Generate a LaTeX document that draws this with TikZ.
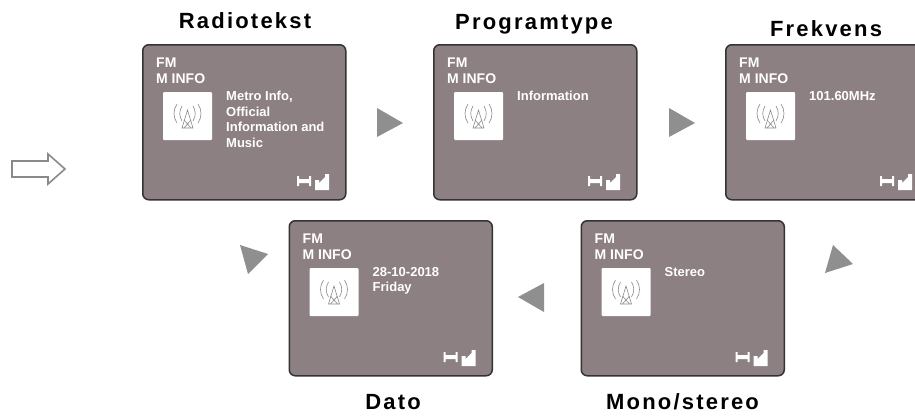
\documentclass[tikz,border=0pt]{standalone}
\usepackage{fontspec}
\setmainfont{Liberation Sans}
\newfontfamily\titlefont[LetterSpace=10,WordSpace=1]{Liberation Sans Bold}
\definecolor{cardfill}{HTML}{8C8083}
\definecolor{cardline}{HTML}{333333}
\definecolor{arrowgrey}{HTML}{8F8F8F}
\definecolor{iconline}{HTML}{8A8A8A}
\tikzset{
  cardbox/.style={draw=cardline,line width=1.5pt,fill=cardfill,rounded corners=6pt,minimum width=203pt,minimum height=155pt,inner sep=0pt,anchor=north west},
  cardlabel/.style={text=white,font=\bfseries\fontsize{14}{16}\selectfont,inner sep=0pt,anchor=west},
  cardtext/.style={text=white,font=\bfseries\fontsize{13}{15.5}\selectfont,inner sep=0pt,anchor=north west,align=left},
  heading/.style={text=black,font=\titlefont\fontsize{22}{26}\selectfont,inner sep=0pt},
  playmark/.style={fill=arrowgrey,draw=none},
  iconbox/.style={fill=white,draw=none,rounded corners=1pt},
  antenna/.style={draw=iconline,line width=0.6pt},
  statusmark/.style={fill=white,draw=none},
}
\newcommand{\infocard}[4]{%
  \node[cardbox] (#1) at (#2,#3) {};
  \begin{scope}[shift={(#1.north west)}]
    \node[cardlabel] (#1fm) at (14,18.2) {FM};
    \node[cardlabel] (#1info) at (14,34.2) {M INFO};
    \fill[iconbox] (21,48) rectangle (70,96);
    \draw[antenna] (45.5,66) -- (40,84) -- (51,84) -- cycle;
    \draw[antenna] (42,76) -- (49,84) (49,76) -- (42,84);
    \draw[antenna] (40,62) .. controls (37,67) and (37,72) .. (40,77);
    \draw[antenna] (51,62) .. controls (54,67) and (54,72) .. (51,77);
    \draw[antenna] (35,60) .. controls (31,66) and (31,73) .. (35,79);
    \draw[antenna] (56,60) .. controls (60,66) and (60,73) .. (56,79);
    \node[cardtext] (#1text) at (84,47) {#4};
    \fill[statusmark] (155,132) rectangle (157,142) (167,132) rectangle (169,142) (157,135) rectangle (167,139);
    \fill[statusmark] (173,136) -- (177,136) -- (177,139) -- (183,133) -- (183,130) -- (187,130) -- (187,146) -- (173,146) -- cycle;
  \end{scope}
}
\begin{document}
\begin{tikzpicture}[x=1pt,y=-1pt]
  \useasboundingbox (0,0) rectangle (915,416);
  \clip (0,0) rectangle (915,416);
  \infocard{radio}{142}{44}{Metro Info,\\Official\\Information and\\Music}
  \infocard{ptype}{433}{44}{Information}
  \infocard{freq}{725}{44}{101.60MHz}
  \infocard{date}{288.5}{220}{28-10-2018\\Friday}
  \infocard{mono}{580.5}{220}{Stereo}
  \node[heading] (t1) at (245,21) {Radiotekst};
  \node[heading] (t2) at (534,24) {Programtype};
  \node[heading] (t3) at (826,29) {Frekvens};
  \node[heading] (t4) at (393,402) {Dato};
  \node[heading] (t5) at (682.5,402) {Mono/stereo};
  \fill[playmark] (377,108) -- (403,123) -- (377,137) -- cycle;
  \fill[playmark] (669,108) -- (695,123) -- (669,137) -- cycle;
  \fill[playmark] (833,245) -- (853,264) -- (825,273) -- cycle;
  \fill[playmark] (544,283) -- (518,297) -- (544,312) -- cycle;
  \fill[playmark] (240,245) -- (268,254) -- (248,274) -- cycle;
  \draw[draw=iconline,line width=1.6pt,fill=white] (12,161) -- (48,161) -- (48,154) -- (65,169) -- (48,184) -- (48,177) -- (12,177) -- cycle;
\end{tikzpicture}
\end{document}
